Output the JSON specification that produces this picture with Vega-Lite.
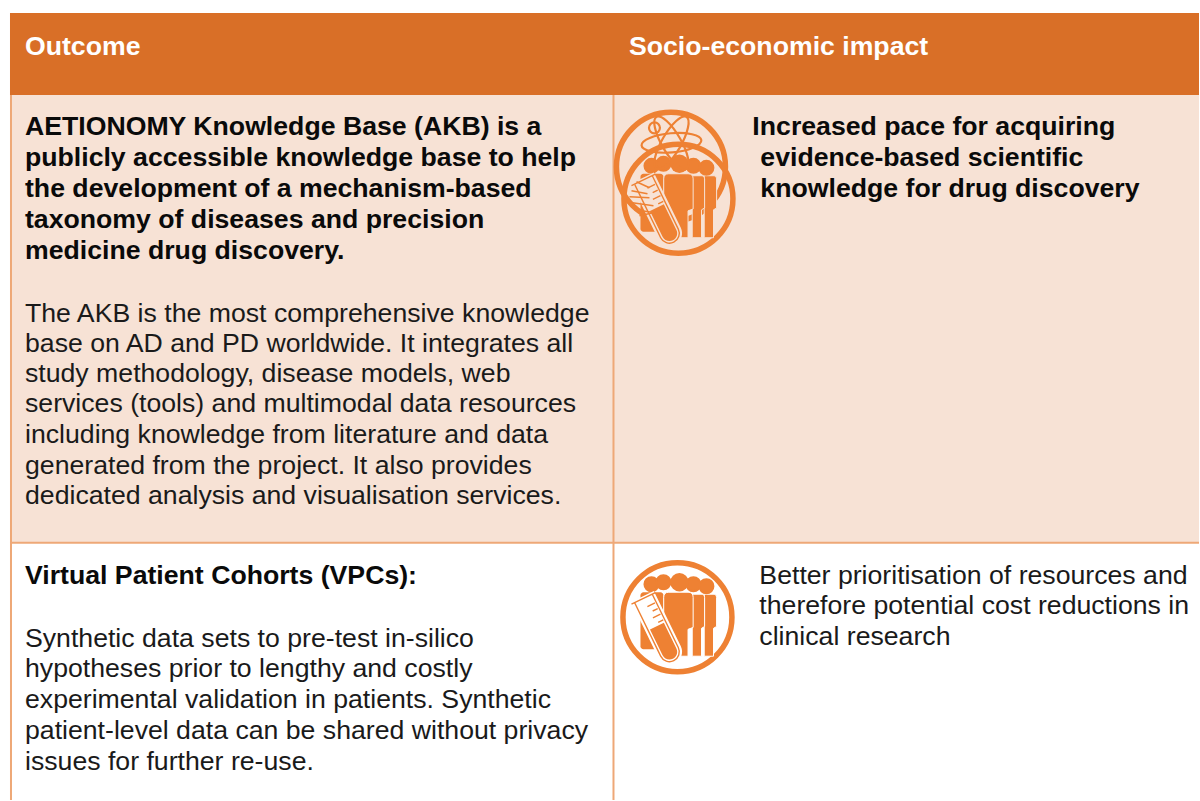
{"$schema":"https://vega.github.io/schema/vega-lite/v6.json","autosize":{"type":"fit","contains":"padding"},"width":1200,"height":801,"padding":0,"background":"white","view":{"stroke":null},
"encoding":{"x":{"field":"x","type":"quantitative","axis":null,"scale":{"domain":[0,1200],"nice":false,"zero":false}},"y":{"field":"y","type":"quantitative","axis":null,"scale":{"domain":[801,0],"nice":false,"zero":false}}},
"layer":[
{"data":{"values":[{"part":"header","x":10,"x2":1200,"y":13,"y2":95}]},"mark":{"type":"rect","fill":"#d96f27"},"encoding":{"x2":{"field":"x2"},"y2":{"field":"y2"}}},
{"data":{"values":[{"part":"row1","x":10,"x2":1200,"y":95,"y2":543}]},"mark":{"type":"rect","fill":"#f7e2d5"},"encoding":{"x2":{"field":"x2"},"y2":{"field":"y2"}}},
{"data":{"values":[{"x":11,"x2":11,"y":95,"y2":801},{"x":614,"x2":614,"y":95,"y2":801},{"x":10,"x2":1200,"y":543.5,"y2":543.5}]},"mark":{"type":"rule","stroke":"#eea877","strokeWidth":2},"encoding":{"x2":{"field":"x2"},"y2":{"field":"y2"}}},
{"data":{"values":[{"x":25,"y":55,"t":"Outcome"},{"x":629.5,"y":55,"t":"Socio-economic impact"}]},"mark":{"type":"text","align":"left","baseline":"alphabetic","font":"Liberation Sans","fontWeight":"bold","fontSize":26.67,"fill":"white"},"encoding":{"text":{"field":"t"}}},
{"data":{"values":[
{"x":25,"y":135,"t":"AETIONOMY Knowledge Base (AKB) is a"},{"x":25,"y":166,"t":"publicly accessible knowledge base to help"},{"x":25,"y":197,"t":"the development of a mechanism-based"},{"x":25,"y":228,"t":"taxonomy of diseases and precision"},{"x":25,"y":259,"t":"medicine drug discovery."},
{"x":25,"y":585,"t":"Virtual Patient Cohorts (VPCs):"},
{"x":753,"y":135,"t":"Increased pace for acquiring"},{"x":761,"y":166,"t":"evidence-based scientific"},{"x":761,"y":197,"t":"knowledge for drug discovery"}]},"mark":{"type":"text","align":"left","baseline":"alphabetic","font":"Liberation Sans","fontWeight":"bold","fontSize":26.67,"fill":"#0a0a0a"},"encoding":{"text":{"field":"t"}}},
{"data":{"values":[
{"x":25,"y":322,"t":"The AKB is the most comprehensive knowledge"},{"x":25,"y":352,"t":"base on AD and PD worldwide. It integrates all"},{"x":25,"y":382,"t":"study methodology, disease models, web"},{"x":25,"y":413,"t":"services (tools) and multimodal data resources"},{"x":25,"y":444,"t":"including knowledge from literature and data"},{"x":25,"y":475,"t":"generated from the project. It also provides"},{"x":25,"y":505,"t":"dedicated analysis and visualisation services."},
{"x":25,"y":648,"t":"Synthetic data sets to pre-test in-silico"},{"x":25,"y":678,"t":"hypotheses prior to lengthy and costly"},{"x":25,"y":709,"t":"experimental validation in patients. Synthetic"},{"x":25,"y":740,"t":"patient-level data can be shared without privacy"},{"x":25,"y":771,"t":"issues for further re-use."},
{"x":760,"y":585,"t":"Better prioritisation of resources and"},{"x":760,"y":615,"t":"therefore potential cost reductions in"},{"x":760,"y":646,"t":"clinical research"}]},"mark":{"type":"text","align":"left","baseline":"alphabetic","font":"Liberation Sans","fontSize":26.67,"fill":"#1a1a1a"},"encoding":{"text":{"field":"t"}}},
{"data":{"values":[{"x":671.5,"y":167},{"x":679,"y":199},{"x":678,"y":618}]},"mark":{"type":"point","shape":"circle","filled":false,"stroke":"#ee8133","strokeWidth":5.5,"opacity":1,"size":11881}},
{"data":{"values":[{"x":641,"x2":664,"y":174,"y2":232},{"x":641,"x2":664,"y":593,"y2":650}]},"mark":{"type":"rect","fill":"#ee8133","cornerRadius":3},"encoding":{"x2":{"field":"x2"},"y2":{"field":"y2"}}},
{"data":{"values":[{"x":711,"y":207,"panel":"shaded"},{"x":699,"y":207,"panel":"shaded"},{"x":711,"y":626,"panel":"plain"},{"x":699,"y":626,"panel":"plain"}]},"mark":{"type":"point","shape":"M-0.1,-0.5L0.06,-0.5Q0.1,-0.5 0.1,-0.45L0.1,0.02L0.05,0.05L0.05,0.5L-0.1,0.5Z","filled":true,"fill":"#ee8133","strokeWidth":1,"opacity":1,"size":15376},"encoding":{"stroke":{"field":"panel","type":"nominal","legend":null,"scale":{"domain":["shaded","plain"],"range":["#f7e2d5","#ffffff"]}}}},
{"data":{"values":[{"x":679,"y":206,"panel":"shaded"},{"x":679,"y":625,"panel":"plain"}]},"mark":{"type":"point","shape":"M-0.15,-0.5L0.15,-0.5Q0.23,-0.5 0.23,-0.42L0.23,0.05L0.15,0.08L0.15,0.5L-0.23,0.5L-0.23,-0.42Q-0.23,-0.5 -0.15,-0.5Z","filled":true,"fill":"#ee8133","strokeWidth":1,"opacity":1,"size":16384},"encoding":{"stroke":{"field":"panel","type":"nominal","legend":null,"scale":{"domain":["shaded","plain"],"range":["#f7e2d5","#ffffff"]}}}},
{"data":{"values":[{"x":652,"y":166},{"x":664,"y":164},{"x":694,"y":166},{"x":707,"y":168},{"x":652,"y":585},{"x":664,"y":583},{"x":694,"y":585},{"x":707,"y":587}]},"mark":{"type":"point","shape":"circle","filled":true,"fill":"#ee8133","stroke":"#ee8133","opacity":1,"size":196}},
{"data":{"values":[{"x":680,"y":164},{"x":680,"y":583}]},"mark":{"type":"point","shape":"circle","filled":true,"fill":"#ee8133","opacity":1,"size":340}},
{"data":{"values":[{"x":659,"y":211,"panel":"shaded"},{"x":659,"y":630,"panel":"plain"}]},"mark":{"type":"point","shape":"M-0.18,-0.52L0.18,-0.52L0.18,0.36A0.18,0.18 0 0,1 -0.18,0.36Z","filled":true,"opacity":1,"angle":-26,"size":19600},"encoding":{"fill":{"field":"panel","type":"nominal","legend":null,"scale":{"domain":["shaded","plain"],"range":["#f7e2d5","#ffffff"]}}}},
{"data":{"values":[{"x":659,"y":211},{"x":659,"y":630}]},"mark":{"type":"point","shape":"M-0.11,-0.05L0.11,-0.05L0.11,0.36A0.11,0.11 0 0,1 -0.11,0.36Z","filled":true,"fill":"#ee8133","opacity":1,"angle":-26,"size":19600}},
{"data":{"values":[{"x":659,"y":211},{"x":659,"y":630}]},"mark":{"type":"point","shape":"M-0.14,-0.48L-0.14,0.36A0.14,0.14 0 0,0 0.14,0.36L0.14,-0.48M-0.19,-0.49L0.19,-0.49M0,-0.36L0.12,-0.36M0.04,-0.27L0.12,-0.27M0,-0.18L0.12,-0.18M0.04,-0.09L0.12,-0.09","filled":false,"stroke":"#ee8133","strokeWidth":1.4,"opacity":1,"angle":-26,"size":19600}},
{"data":{"values":[{"x":637,"x2":650,"y":182,"y2":188},{"x":632,"x2":648,"y":191,"y2":194},{"x":630,"x2":650,"y":197,"y2":198},{"x":633,"x2":654,"y":203,"y2":206},{"x":635,"x2":656,"y":210,"y2":213},{"x":640,"x2":658,"y":216,"y2":212}]},"mark":{"type":"rule","stroke":"#ee8133","strokeWidth":1.5},"encoding":{"x2":{"field":"x2"},"y2":{"field":"y2"}}},
{"data":{"values":[{"x":672,"y":143}]},"mark":{"type":"point","shape":"M-0.5,0A0.5,0.16 0 1,1 0.5,0A0.5,0.16 0 1,1 -0.5,0Z","filled":false,"stroke":"#ee8133","strokeWidth":2.2,"opacity":1,"angle":-5,"size":14400}},
{"data":{"values":[{"x":672,"y":143}]},"mark":{"type":"point","shape":"M-0.5,0A0.5,0.16 0 1,1 0.5,0A0.5,0.16 0 1,1 -0.5,0Z","filled":false,"stroke":"#ee8133","strokeWidth":2.2,"opacity":1,"angle":60,"size":14400}},
{"data":{"values":[{"x":672,"y":143}]},"mark":{"type":"point","shape":"M-0.5,0A0.5,0.16 0 1,1 0.5,0A0.5,0.16 0 1,1 -0.5,0Z","filled":false,"stroke":"#ee8133","strokeWidth":2.2,"opacity":1,"angle":120,"size":14400}},
{"data":{"values":[{"x":655,"y":128}]},"mark":{"type":"point","shape":"circle","filled":false,"stroke":"#ee8133","strokeWidth":2.2,"opacity":1,"size":120}}
]}
